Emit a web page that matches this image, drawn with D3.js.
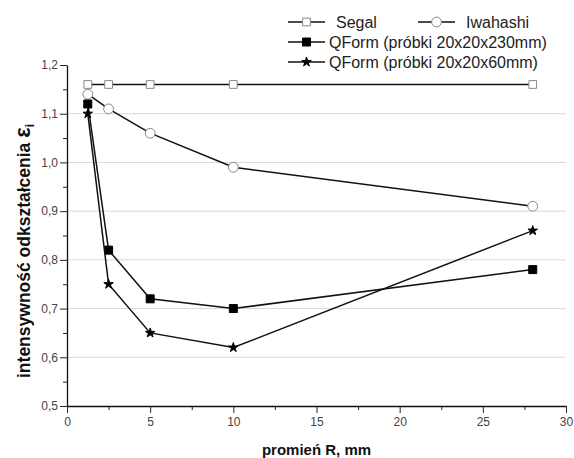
<!DOCTYPE html>
<head>
    <meta charset="utf-8">
    <title>promien R</title>
    <script src="https://cdnjs.cloudflare.com/ajax/libs/d3/7.8.5/d3.min.js"></script>
    <style>
    body { margin:0; background:white; }
    svg { display:block; font-family:"Liberation Sans", Arial, sans-serif; }
    .tick text { fill:#444; font-size:12px; }
    </style>
</head>
<body>
<div id="chart"></div>
<script>
// data
var radius = [1.25, 2.5, 5, 10, 28];
var segal = [1.16, 1.16, 1.16, 1.16, 1.16];
var iwahashi = [1.14, 1.11, 1.06, 0.99, 0.91];
var qform230 = [1.12, 0.82, 0.72, 0.70, 0.78];
var qform60 = [1.10, 0.75, 0.65, 0.62, 0.86];

var xTicks = [0, 5, 10, 15, 20, 25, 30];
var yTicks = [0.5, 0.6, 0.7, 0.8, 0.9, 1.0, 1.1, 1.2];
var legendNames = ['Segal', 'Iwahashi', 'QForm (próbki 20x20x230mm)', 'QForm (próbki 20x20x60mm)'];

var width = 574, height = 458;
var plotLeft = 67, plotRight = 566, plotTop = 65, plotBottom = 406;

var svg = d3.select('#chart').append('svg')
    .attr('width', width)
    .attr('height', height);

var x = d3.scaleLinear().domain([0, 30]).range([plotLeft, plotRight]);
var y = d3.scaleLinear().domain([0.5, 1.2]).range([plotBottom, plotTop]);
var comma = function(d) { return d3.format('.1f')(d).replace('.', ','); };

// grid
svg.append('g').selectAll('line')
    .data(yTicks.filter(function(d) { return d > 0.5 && d < 1.2; }))
    .enter().append('line')
    .attr('x1', plotLeft).attr('x2', plotRight)
    .attr('y1', function(d) { return y(d); })
    .attr('y2', function(d) { return y(d); })
    .attr('stroke', '#d9d9d9').attr('stroke-width', 1);

// minor ticks
svg.append('g').attr('transform', 'translate(0,' + plotBottom + ')')
    .call(d3.axisBottom(x).tickValues(d3.range(2.5, 30, 5)).tickSize(4).tickFormat(''))
    .call(function(g) { g.select('.domain').remove(); });
svg.append('g').attr('transform', 'translate(' + plotLeft + ',0)')
    .call(d3.axisLeft(y).tickValues(d3.range(0.55, 1.2, 0.1)).tickSize(4).tickFormat(''))
    .call(function(g) { g.select('.domain').remove(); });

// axes
svg.append('g').attr('transform', 'translate(0,' + plotBottom + ')')
    .call(d3.axisBottom(x).tickValues(xTicks).tickSize(7).tickPadding(4).tickSizeOuter(0));
svg.append('g').attr('transform', 'translate(' + plotLeft + ',0)')
    .call(d3.axisLeft(y).tickValues(yTicks).tickSize(7).tickPadding(2).tickFormat(comma).tickSizeOuter(0));
svg.selectAll('.domain').attr('stroke', '#111').attr('stroke-width', 1.3);
svg.selectAll('.tick line').attr('stroke', '#222');

// axis titles
svg.append('text')
    .attr('x', (plotLeft + plotRight) / 2).attr('y', 455)
    .attr('text-anchor', 'middle')
    .attr('font-weight', 'bold').attr('font-size', 15)
    .attr('fill', '#111')
    .text('promień R, mm');

var yl = svg.append('text')
    .attr('transform', 'translate(30,251) rotate(-90)')
    .attr('text-anchor', 'middle')
    .attr('font-weight', 'bold').attr('font-size', 17.5)
    .attr('fill', '#111');
yl.append('tspan').text('intensywność odkształcenia ');
yl.append('tspan').attr('font-size', 22).text('ε');
yl.append('tspan').attr('font-size', 12).attr('dy', 4).text('i');

// series
var series = [
    { vals: segal, sym: d3.symbolSquare, size: 60, fill: 'white', stroke: '#888' },
    { vals: iwahashi, sym: d3.symbolCircle, size: 75, fill: 'white', stroke: '#888' },
    { vals: qform230, sym: d3.symbolSquare, size: 64, fill: 'black', stroke: 'black' },
    { vals: qform60, sym: d3.symbolStar, size: 28, fill: 'black', stroke: 'black' }
];

var line = d3.line()
    .x(function(d) { return x(d[0]); })
    .y(function(d) { return y(d[1]); });

series.forEach(function(s) {
    var pts = d3.zip(radius, s.vals);
    svg.append('path')
        .datum(pts)
        .attr('d', line)
        .attr('fill', 'none')
        .attr('stroke', '#111')
        .attr('stroke-width', 1.5);
    svg.append('g').selectAll('path')
        .data(pts)
        .enter().append('path')
        .attr('transform', function(d) { return 'translate(' + x(d[0]) + ',' + y(d[1]) + ')'; })
        .attr('d', d3.symbol().type(s.sym).size(s.size))
        .attr('fill', s.fill)
        .attr('stroke', s.stroke)
        .attr('stroke-width', 1);
});

// legend
var legendPos = [[288, 22], [418, 22], [288, 42], [288, 62]];
var textX = [336, 466, 329, 329];
legendNames.forEach(function(name, i) {
    var s = series[i], p = legendPos[i];
    var g = svg.append('g');
    g.append('line')
        .attr('x1', p[0]).attr('x2', p[0] + 37)
        .attr('y1', p[1]).attr('y2', p[1])
        .attr('stroke', '#111').attr('stroke-width', 1.5);
    g.append('path')
        .attr('transform', 'translate(' + (p[0] + 18.5) + ',' + p[1] + ')')
        .attr('d', d3.symbol().type(s.sym).size(s.size))
        .attr('fill', s.fill).attr('stroke', s.stroke);
    g.append('text')
        .attr('x', textX[i]).attr('y', p[1] + 5.5)
        .attr('font-size', 16).attr('fill', '#222')
        .text(name);
});
</script>
</body>
</html>
